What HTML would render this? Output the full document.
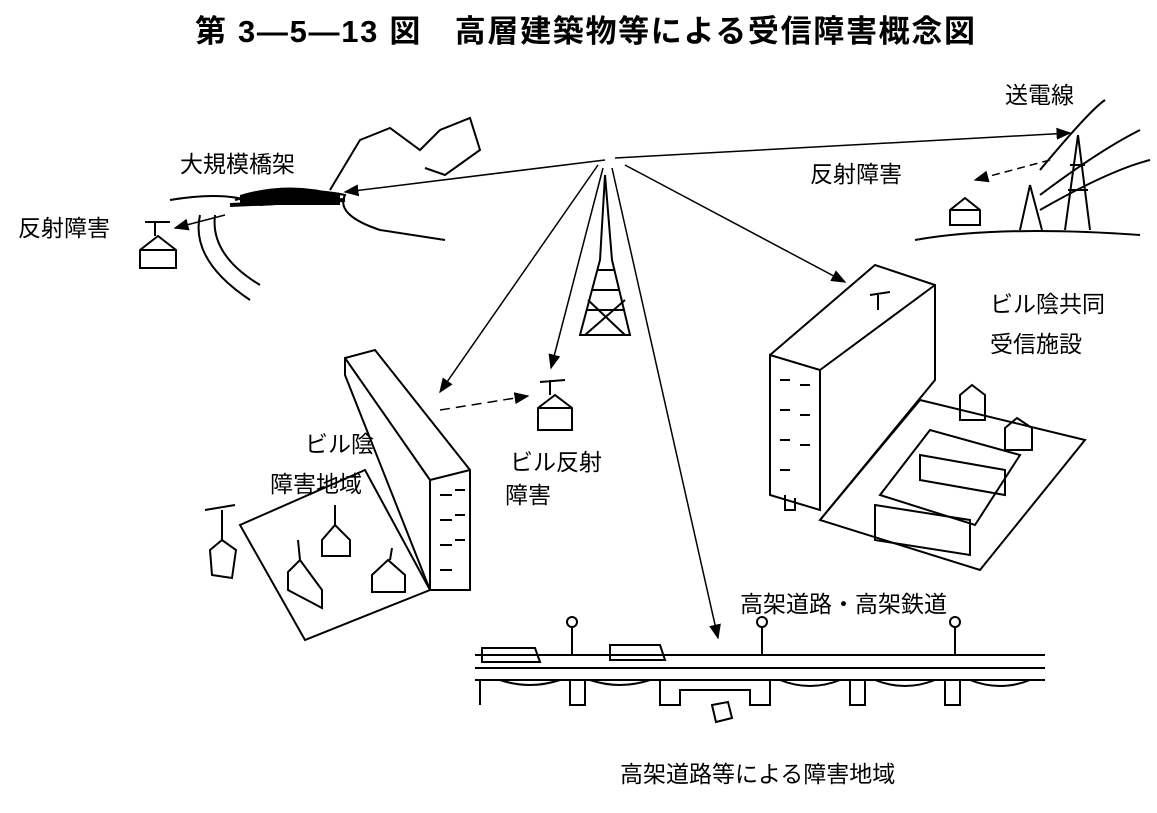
<!DOCTYPE html>
<html><head><meta charset="utf-8"><style>
body{margin:0;background:#fff;}
svg{display:block;}
text{font-family:"Liberation Sans","Noto Sans CJK JP",sans-serif;fill:#000;}
</style></head><body>
<svg width="1157" height="813" viewBox="0 0 1157 813" xmlns="http://www.w3.org/2000/svg">
<defs><marker id="a" markerWidth="10" markerHeight="8" refX="9" refY="4" orient="auto"><path d="M0,0 L10,4 L0,8 Z" fill="#000"/></marker></defs>
<text x="195" y="42" font-size="31" font-weight="bold" textLength="780" lengthAdjust="spacing">第 3—5—13 図　高層建築物等による受信障害概念図</text>
<g stroke="#000" stroke-width="2" fill="none">
<path d="M330,190 L360,140 L390,128 L420,150 L440,130 L470,118 L480,150 L445,175 L425,168"/>
<path d="M170,200 Q230,190 260,205 L340,200"/>
<path d="M200,215 Q190,260 250,300"/><path d="M215,215 Q210,255 260,285"/>
<path d="M235,200 Q300,185 345,195 Q335,215 380,230 L445,240"/>
<path d="M230,205 L345,200" stroke-width="4"/>
<path d="M140,250 L158,236 L176,250 L176,268 L140,268 Z M140,250 L176,250"/>
<path d="M155,236 L155,222 M145,222 L170,222"/>
<path d="M605,175 L600,260 L580,335 L630,335 L612,260 Z"/>
<path d="M592,290 L620,290 M587,310 L625,310 M598,270 L615,270 M585,335 L625,300 M625,335 L588,300"/>
<g stroke-width="1.5">
<line x1="605" y1="160" x2="345" y2="192" marker-end="url(#a)"/>
<line x1="598" y1="165" x2="440" y2="392" marker-end="url(#a)"/>
<line x1="603" y1="168" x2="551" y2="368" marker-end="url(#a)"/>
<line x1="612" y1="168" x2="718" y2="638" marker-end="url(#a)"/>
<line x1="625" y1="165" x2="845" y2="282" marker-end="url(#a)"/>
<line x1="615" y1="158" x2="1070" y2="133" marker-end="url(#a)"/>
<line x1="440" y1="410" x2="528" y2="396" stroke-dasharray="10,6" marker-end="url(#a)"/>
<line x1="1050" y1="160" x2="975" y2="180" stroke-dasharray="8,5" marker-end="url(#a)"/>
<line x1="225" y1="215" x2="175" y2="228" marker-end="url(#a)"/>
</g>
<path d="M1078,135 L1065,230 M1078,135 L1090,230 M1068,190 L1088,190 M1070,165 L1085,165"/>
<path d="M1030,185 L1020,230 M1030,185 L1042,230"/>
<path d="M1040,170 Q1090,110 1105,100 M1040,195 Q1100,150 1140,130 M1040,210 Q1110,170 1150,160"/>
<path d="M915,240 Q1000,225 1140,235"/>
<path d="M950,210 L965,198 L980,210 L980,225 L950,225 Z M950,210 L980,210"/>
<path d="M538,408 L555,395 L572,408 L572,430 L538,430 Z M538,408 L572,408 M550,395 L550,380 M540,382 L565,380"/>
<path d="M345,358 L345,375 L430,590 L470,590 L470,470 L375,350 Z" fill="#fff"/>
<path d="M430,480 L470,470 M430,480 L430,590 M345,358 L430,480"/>
<path d="M440,495 h12 M455,490 h10 M440,520 h12 M455,515 h10 M440,545 h12 M455,540 h10 M440,570 h12"/>
<path d="M240,525 L365,470 L430,590 L305,640 Z"/>
<path d="M210,550 L222,540 L236,550 L232,578 L212,575 Z M222,540 L222,510 M205,510 L235,505"/>
<path d="M322,540 L335,525 L350,540 L350,556 L322,556 Z M335,525 L335,505"/>
<path d="M288,572 L300,560 L322,590 L322,608 L288,590 Z M300,560 L298,540"/>
<path d="M372,575 L388,560 L405,575 L405,592 L372,592 Z M390,560 L392,548"/>
<path d="M770,355 L820,370 L820,510 L770,495 Z" fill="#fff"/>
<path d="M770,355 L875,265 L935,285 L935,380 L820,520 M820,370 L935,285"/>
<path d="M780,380 h10 M780,410 h10 M780,440 h10 M780,470 h10 M800,385 h10 M800,415 h10 M800,445 h10 M785,495 v15 h10 v-12"/>
<path d="M820,520 L920,400 L1085,440 L980,570 Z"/>
<path d="M880,495 L930,430 L1020,455 L975,525 Z"/>
<path d="M920,455 L1005,470 L1005,495 L920,480 Z M875,505 L970,520 L970,555 L875,540 Z"/>
<path d="M960,395 L972,385 L985,395 L985,420 L960,420 Z M1005,428 L1017,418 L1032,428 L1032,450 L1005,450 Z"/>
<path d="M878,295 L878,310 M870,295 L890,292"/>
<path d="M475,655 L1045,655 M475,668 L1045,668 M475,680 L1045,680"/>
<path d="M480,680 L480,705 M500,680 Q530,690 560,680 M570,680 L570,705 L585,705 L585,680 M590,680 Q620,690 650,680 M660,680 L660,705 L680,705 L680,690 L750,690 L750,705 L770,705 L770,680 M780,680 Q810,692 840,680 M850,680 L850,705 L865,705 L865,680 M875,680 Q905,692 935,680 M945,680 L945,705 L960,705 L960,680 M970,680 Q1000,692 1030,680"/>
<path d="M482,648 L535,648 L540,662 L482,662 Z M610,645 L660,645 L665,660 L610,660 Z"/>
<path d="M572,628 L572,655 M762,628 L762,655 M955,628 L955,655"/>
<circle cx="572" cy="622" r="5"/><circle cx="762" cy="622" r="5"/><circle cx="955" cy="622" r="5"/>
<path d="M712,705 L728,702 L732,718 L716,722 Z"/>
</g>
<path d="M240,195 Q290,180 340,195 L340,205 L240,205Z" fill="#000"/>
<g font-size="23">
<text x="180" y="172">大規模橋架</text>
<text x="18" y="236">反射障害</text>
<text x="1005" y="103">送電線</text>
<text x="810" y="182">反射障害</text>
<text x="990" y="312">ビル陰共同</text>
<text x="990" y="352">受信施設</text>
<text x="305" y="452">ビル陰</text>
<text x="270" y="492">障害地域</text>
<text x="510" y="470">ビル反射</text>
<text x="505" y="503">障害</text>
<text x="740" y="612">高架道路・高架鉄道</text>
<text x="620" y="782">高架道路等による障害地域</text>
</g>
</svg>
</body></html>
